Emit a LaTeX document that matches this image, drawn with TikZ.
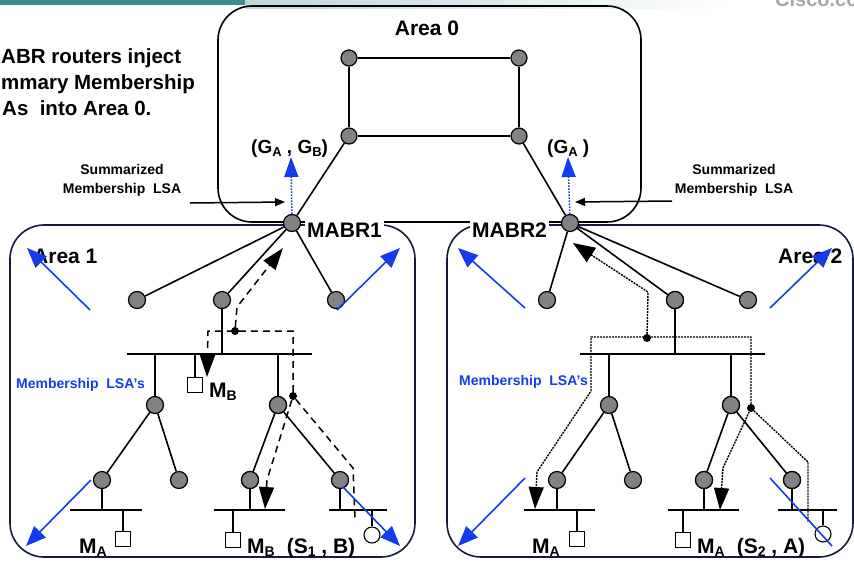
\documentclass[tikz,border=0pt]{standalone}
\usepackage{fontspec}
\setmainfont{Liberation Sans}
\usetikzlibrary{arrows.meta}
\definecolor{teal0}{RGB}{64,140,150}
\definecolor{lsablue}{RGB}{20,60,235}
\definecolor{navy}{RGB}{20,28,60}
\definecolor{nodegray}{RGB}{130,130,130}
\definecolor{logogray}{RGB}{160,168,176}
% lowered small letter used for group / host indices
\newcommand{\lsub}[2][12]{\raisebox{-0.35ex}{\fontsize{#1}{#1}\selectfont #2}}

\begin{document}
\begin{tikzpicture}[x=1pt,y=-1pt,
  router/.style={circle,draw=black,fill=nodegray,line width=1.2pt,minimum size=17pt,inner sep=0pt},
  host/.style={rectangle,draw=black,fill=white,line width=1.1pt,minimum size=15pt,inner sep=0pt},
  srcnode/.style={circle,draw=black,fill=white,line width=1.1pt,minimum size=16pt,inner sep=0pt},
  junction/.style={circle,fill=black,minimum size=8pt,inner sep=0pt},
  link/.style={line width=1.6pt},
  areabox/.style={line width=1.6pt,rounded corners=34pt},
  bigtxt/.style={font=\fontsize{21}{25}\selectfont\bfseries,inner sep=0pt},
  introtxt/.style={font=\fontsize{20.5}{25}\selectfont\bfseries,inner sep=0pt,anchor=base west},
  gtxt/.style={font=\fontsize{19}{23}\selectfont\bfseries,inner sep=0pt},
  smalltxt/.style={font=\fontsize{14}{19}\selectfont\bfseries,inner sep=0pt,align=center},
  dashpath/.style={line width=1.5pt,dash pattern=on 7pt off 5pt},
  dotpath/.style={line width=1.4pt,dash pattern=on 2pt off 1pt},
  bigtip/.style={-{Triangle[length=22pt,width=15pt]}},
  bluearrow/.style={lsablue,line width=1.6pt,-{Triangle[length=20pt,width=16pt]}},
  blueup/.style={lsablue,line width=1.5pt,dash pattern=on 1.5pt off 1.5pt,-{Triangle[length=20pt,width=14pt]}},
  sumarrow/.style={line width=1.5pt,-{Triangle[length=10pt,width=8pt]}},
]
\useasboundingbox (0,0) rectangle (854,563);
\clip (0,0) rectangle (854,563);

% slide header strip and logo
\fill[teal0] (0,0) rectangle (245,5);
\shade[left color=teal0!35!white,right color=white] (245,0) rectangle (730,8);
\node[anchor=base west,inner sep=0pt,font=\fontsize{20}{20}\selectfont\bfseries,text=logogray] (logo) at (775,6) {Cisco.co};

% areas
\draw[areabox,black] (218,6) rectangle (641,222);
\draw[areabox,navy] (10,225) rectangle (415,557);
\draw[areabox,navy] (447,225) rectangle (853,557);

% ---------- Area 0 backbone ----------
\node[router,minimum size=16pt] (a0tl) at (349,58) {};
\node[router,minimum size=16pt] (a0tr) at (519,58) {};
\node[router,minimum size=16pt] (a0bl) at (349,136) {};
\node[router,minimum size=16pt] (a0br) at (519,136) {};
\node[router] (m1) at (292,223) {};
\node[router] (m2) at (570,223) {};
\draw[link] (a0tl) -- (a0tr) (a0tl) -- (a0bl) (a0tr) -- (a0br) (a0bl) -- (a0br);
\draw[link] (a0bl) -- (m1) (a0br) -- (m2);

% ---------- Area 1 ----------
\node[router] (p1) at (137,300) {};
\node[router] (p2) at (222,300) {};
\node[router] (p3) at (336,300) {};
\node[router] (q1) at (155,405) {};
\node[router] (q2) at (278,405) {};
\node[router] (r1) at (102,480) {};
\node[router] (r2) at (179,480) {};
\node[router] (r3) at (250,480) {};
\node[router] (r4) at (340,480) {};
\node[host] (hB1) at (195,385) {};
\node[host] (hA1) at (123,539) {};
\node[host] (hB2) at (233,540) {};
\node[srcnode] (src1) at (372,535) {};
\coordinate (b1w) at (127,354); \coordinate (b1e) at (312,354);
\coordinate (b2w) at (70,510);  \coordinate (b2e) at (142,510);
\coordinate (b3w) at (214,510); \coordinate (b3e) at (285,510);
\coordinate (b4w) at (329,510); \coordinate (b4e) at (387,510);

% ---------- Area 2 ----------
\node[router] (s1) at (547,300) {};
\node[router] (s2) at (675,300) {};
\node[router] (s3) at (748,300) {};
\node[router] (t1) at (609,405) {};
\node[router] (t2) at (731,405) {};
\node[router] (u1) at (557,480) {};
\node[router] (u2) at (633,480) {};
\node[router] (u3) at (704,480) {};
\node[router] (u4) at (792,480) {};
\node[host] (hA2) at (577,539) {};
\node[host] (hA3) at (683,540) {};
\node[srcnode] (src2) at (823,534) {};
\coordinate (b5w) at (580,354); \coordinate (b5e) at (765,354);
\coordinate (b6w) at (524,510); \coordinate (b6e) at (595,510);
\coordinate (b7w) at (668,510); \coordinate (b7e) at (739,510);
\coordinate (b8w) at (778,510); \coordinate (b8e) at (837,510);

% links and LAN segments
\draw[link] (m1) -- (p1) (m1) -- (p2) (m1) -- (p3);
\draw[link] (b1w) -- (b1e) (b2w) -- (b2e) (b3w) -- (b3e) (b4w) -- (b4e);
\draw[link] (p2) -- (p2 |- b1w) (q1) -- (q1 |- b1w) (q2) -- (q2 |- b1w) (hB1) -- (hB1 |- b1w);
\draw[link] (q1) -- (r1) (q1) -- (r2) (q2) -- (r3) (q2) -- (r4);
\draw[link] (r1) -- (r1 |- b2w) (r3) -- (r3 |- b3w) (r4) -- (r4 |- b4w);
\draw[link] (hA1) -- (hA1 |- b2w) (hB2) -- (hB2 |- b3w) (src1) -- (src1 |- b4w);

\draw[link] (m2) -- (s1) (m2) -- (s2) (m2) -- (s3);
\draw[link] (b5w) -- (b5e) (b6w) -- (b6e) (b7w) -- (b7e) (b8w) -- (b8e);
\draw[link] (s2) -- (s2 |- b5w) (t1) -- (t1 |- b5w) (t2) -- (t2 |- b5w);
\draw[link] (t1) -- (u1) (t1) -- (u2) (t2) -- (u3) (t2) -- (u4);
\draw[link] (u1) -- (u1 |- b6w) (u3) -- (u3 |- b7w) (u4) -- (u4 |- b8w);
\draw[link] (hA2) -- (hA2 |- b6w) (hA3) -- (hA3 |- b7w) (src2) -- (src2 |- b8w);

% membership report paths in Area 1 (dashed)
\node[junction] (jA1) at (235,331) {};
\node[junction] (jA2) at (293,396) {};
\draw[dashpath,bigtip] (jA1) -- (237,307) -- (283,248);
\draw[dashpath,bigtip] (jA2) -- (293,331) -- (208,331) -- (207,377);
\draw[dashpath] (jA2) -- (353,468) -- (355,518);
\draw[dashpath,bigtip] (jA2) -- (267,480) -- (265,509);

% membership report paths in Area 2 (dotted)
\node[junction] (jB1) at (647,338) {};
\node[junction] (jB2) at (751,408) {};
\draw[dotpath,-{Triangle[length=22pt,width=17pt]}] (jB1) -- (648,292) -- (573,243);
\draw[dotpath,bigtip] (jB2) -- (751,337) -- (591,337) -- (591,391) -- (537,472) -- (535,509);
\draw[dotpath] (jB2) -- (808,462) -- (808,522);
\draw[dotpath,bigtip] (jB2) -- (723,468) -- (720,510);

% redraw routers on top of the report paths
\foreach \n in {q2,r3,s2,t2,u3,u4} {\node[router] at (\n) {};}

% labels
\node[bigtxt,anchor=base] (lbl0) at (427,35) {Area 0};
\node[bigtxt,anchor=base west] (lbl1) at (33,263) {Area 1};
\node[bigtxt,anchor=base west] (lbl2) at (778,263) {Area 2};
\node[bigtxt,anchor=base west,fill=white,inner sep=2pt] (lblm1) at (305,237) {MABR1};
\node[bigtxt,anchor=base west,fill=white,inner sep=2pt] (lblm2) at (470,237) {MABR2};

\node[introtxt] (intro1) at (1,63) {ABR routers inject};
\node[introtxt] (intro2) at (1,89) {mmary Membership};
\node[introtxt] (intro3) at (2,115) {As\ \ into Area 0.};

\node[gtxt,anchor=base west] (gab) at (251,153) {(G\lsub[13]{A} , G\lsub[13]{B})};
\node[gtxt,anchor=base west] (ga) at (547,153) {(G\lsub[13]{A} )};

\node[smalltxt,anchor=base] (sumL) at (122,193) {Summarized\\Membership\ \ LSA};
\node[smalltxt,anchor=base] (sumR) at (734,193) {Summarized\\Membership\ \ LSA};
\node[smalltxt,anchor=base west,text=lsablue] (mlsa1) at (16,388) {Membership\ \ LSA’s};
\node[smalltxt,anchor=base west,text=lsablue] (mlsa2) at (459,385) {Membership\ \ LSA’s};

\node[bigtxt,anchor=base west] (lmb1) at (209,397) {M\lsub[14]{B}};
\node[bigtxt,anchor=base west] (lma1) at (79,553) {M\lsub[14]{A}};
\node[bigtxt,anchor=base west] (lmb2) at (247,553) {M\lsub[14]{B}\hspace{12pt}(S\lsub[14]{1} , B)};
\node[bigtxt,anchor=base west] (lma2) at (532,553) {M\lsub[14]{A}};
\node[bigtxt,anchor=base west] (lma3) at (697,553) {M\lsub[14]{A}\hspace{12pt}(S\lsub[14]{2} , A)};

% summarized LSA pointers
\coordinate (sLfrom) at (190,203); \coordinate (sLto) at (285,202);
\coordinate (sRfrom) at (672,201); \coordinate (sRto) at (575,202);
\draw[sumarrow] (sLfrom) -- (sLto);
\draw[sumarrow] (sRfrom) -- (sRto);

% summarized LSAs injected into Area 0
\coordinate (gabtip) at (291,157);
\coordinate (gatip) at (568,157);
\draw[blueup] (m1) -- (gabtip);
\draw[blueup] (m2) -- (gatip);

% flooding of membership LSAs
\coordinate (f1a) at (90,310);  \coordinate (f1b) at (27,248);
\coordinate (f2a) at (337,310); \coordinate (f2b) at (400,248);
\coordinate (f3a) at (91,480);  \coordinate (f3b) at (26,546);
\coordinate (f4a) at (343,487); \coordinate (f4b) at (400,546);
\coordinate (f5a) at (525,308); \coordinate (f5b) at (458,248);
\coordinate (f6a) at (770,308); \coordinate (f6b) at (832,248);
\coordinate (f7a) at (525,478); \coordinate (f7b) at (458,546);
\coordinate (f8a) at (770,478); \coordinate (f8b) at (832,546);
\draw[bluearrow] (f1a) -- (f1b);
\draw[bluearrow] (f2a) -- (f2b);
\draw[bluearrow] (f3a) -- (f3b);
\draw[bluearrow] (f4a) -- (f4b);
\draw[bluearrow] (f5a) -- (f5b);
\draw[bluearrow] (f6a) -- (f6b);
\draw[bluearrow] (f7a) -- (f7b);
\draw[lsablue,line width=1.6pt] (f8a) -- (f8b);
\end{tikzpicture}
\end{document}
